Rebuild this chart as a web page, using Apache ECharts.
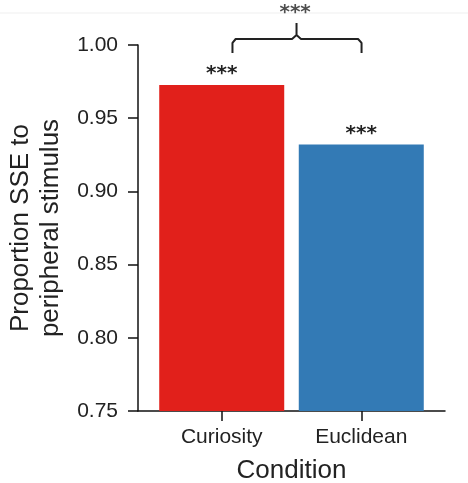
<!DOCTYPE html>
<html>
<head>
<meta charset="utf-8">
<script src="https://cdn.jsdelivr.net/npm/echarts@6/dist/echarts.min.js"></script>
<style>html,body{margin:0;padding:0;background:#fff}#main{width:468px;height:483px}</style>
</head>
<body>
<div id="main"></div>
<script>
var categories = ['Curiosity', 'Euclidean'];
var catPos = [0, 1];
var proportion = [0.9726, 0.932];
var barSig = ['***', '***'];
var barColors = ['#e1201b', '#337ab5'];
// curly bracket between the two conditions (data coords)
var bracketX = [0.077, 0.077, 0.1, 0.504, 0.536, 0.536, 0.536, 0.568, 0.977, 1.002, 1.002];
var bracketY = [0.9945, 1.0014, 1.0041, 1.0041, 1.0068, 1.0151, 1.0068, 1.0041, 1.0041, 1.0014, 0.9945];
var topSig = { x: 0.526, y: 1.0233, text: '***' };

var myChart = echarts.init(document.getElementById('main'));
var font = 'Liberation Sans, Arial, sans-serif';
var starFont = 'DejaVu Sans, sans-serif';

var option = {
    backgroundColor: '#fff',
    animation: false,
    textStyle: { fontFamily: font },
    grid: { left: 138, right: 23, top: 45, bottom: 72, outerBoundsMode: 'none', containLabel: false },
    graphic: [{
        type: 'line',
        shape: { x1: 0, y1: 13, x2: 468, y2: 13 },
        style: { stroke: '#efefef', lineWidth: 1 },
        z: -1
    }],
    xAxis: {
        type: 'value',
        min: -0.6,
        max: 1.6,
        name: 'Condition',
        nameLocation: 'middle',
        nameGap: 47,
        nameTextStyle: { fontSize: 26, color: '#222' },
        axisLine: { show: true, onZero: false, lineStyle: { color: '#111', width: 1.5 } },
        axisTick: { show: true, length: 10, customValues: catPos, lineStyle: { color: '#111', width: 1.5 } },
        axisLabel: {
            customValues: catPos,
            fontSize: 21,
            color: '#222',
            margin: 16,
            formatter: function (v) { return categories[catPos.indexOf(v)]; }
        },
        splitLine: { show: false }
    },
    yAxis: {
        type: 'value',
        min: 0.75,
        max: 1.0,
        interval: 0.05,
        name: 'Proportion SSE to\nperipheral stimulus',
        nameLocation: 'middle',
        nameGap: 70,
        nameTextStyle: { fontSize: 26, color: '#222', lineHeight: 30 },
        axisLine: { show: true, onZero: false, lineStyle: { color: '#111', width: 1.5 } },
        axisTick: { show: true, length: 10, lineStyle: { color: '#111', width: 1.5 } },
        axisLabel: {
            fontSize: 21,
            color: '#222',
            margin: 20,
            formatter: function (v) { return v.toFixed(2); }
        },
        splitLine: { show: false }
    },
    series: [
        {
            type: 'bar',
            barWidth: 125,
            data: catPos.map(function (x, i) {
                return { value: [x, proportion[i]], itemStyle: { color: barColors[i] } };
            }),
            label: {
                show: true,
                position: 'top',
                distance: 0,
                offset: [0, -1],
                fontSize: 20,
                fontWeight: 'bold',
                fontFamily: starFont,
                color: '#222',
                formatter: function (p) { return barSig[p.dataIndex]; }
            }
        },
        {
            type: 'line',
            clip: false,
            silent: true,
            symbol: 'none',
            data: bracketX.map(function (x, i) { return [x, bracketY[i]]; }),
            lineStyle: { color: '#222', width: 2 }
        },
        {
            type: 'scatter',
            clip: false,
            silent: true,
            symbolSize: 1,
            itemStyle: { color: 'rgba(0,0,0,0)' },
            data: [[topSig.x, topSig.y]],
            label: {
                show: true,
                position: 'inside',
                offset: [0, 2],
                fontSize: 20,
                fontWeight: 'bold',
                fontFamily: starFont,
                color: '#222',
                formatter: topSig.text
            }
        }
    ]
};

myChart.setOption(option);
</script>
</body>
</html>
